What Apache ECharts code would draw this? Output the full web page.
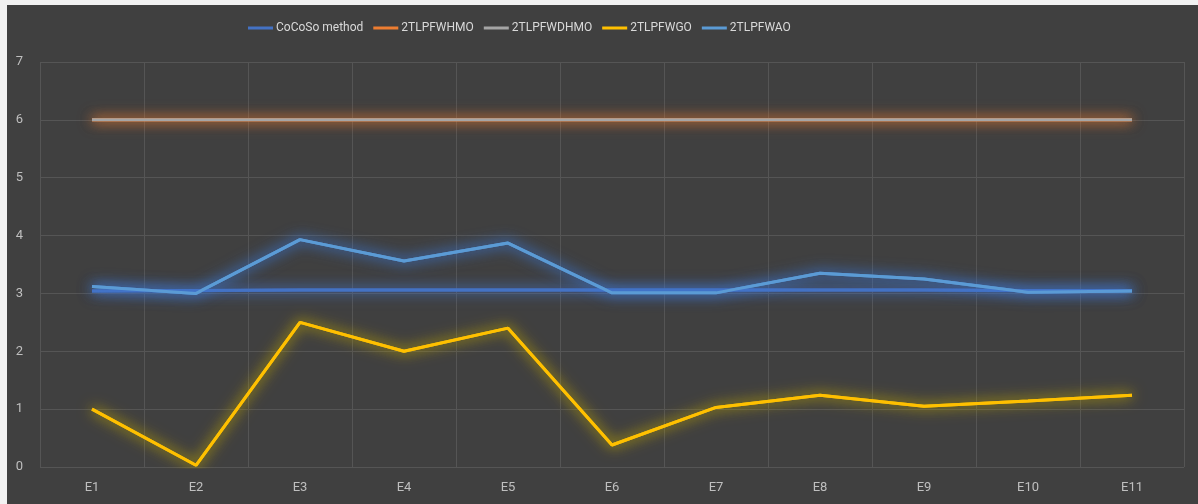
<!DOCTYPE html>
<html>
<head>
<meta charset="utf-8">
<script src="https://cdn.jsdelivr.net/npm/echarts@6/dist/echarts.min.js"></script>
<style>
    html, body { margin: 0; padding: 0; background: #f2f2f2; }
    #chart { position: absolute; left: 7px; top: 5px; width: 1191px; height: 499px; }
</style>
</head>
<body>
<div id="chart"></div>
<script>
const categories = ["E1", "E2", "E3", "E4", "E5", "E6", "E7", "E8", "E9", "E10", "E11"]
const cocoso = [3.04, 3.05, 3.06, 3.06, 3.06, 3.06, 3.06, 3.06, 3.06, 3.05, 3.05]
const whmo = [6, 6, 6, 6, 6, 6, 6, 6, 6, 6, 6]
const wdhmo = [6, 6, 6, 6, 6, 6, 6, 6, 6, 6, 6]
const wgo = [1.0, 0.03, 2.5, 2.0, 2.4, 0.38, 1.03, 1.24, 1.05, 1.14, 1.24]
const wao = [3.12, 3.0, 3.93, 3.56, 3.87, 3.01, 3.01, 3.35, 3.25, 3.02, 3.04]
const yTicks = [0, 1, 2, 3, 4, 5, 6, 7]

// extra blurred copy under each line, like Excel's glow effect
const glowSeries = (name, data, color, glow) => ({
    name: name + " glow",
    type: "line",
    data: data,
    symbol: "none",
    silent: true,
    z: 1,
    lineStyle: {
        color: color,
        width: 3,
        shadowBlur: 16,
        shadowColor: glow
    }
})

const mainSeries = (name, data, color, glow) => ({
    name: name,
    type: "line",
    data: data,
    symbol: "none",
    z: 2,
    lineStyle: { color: color, width: 3, shadowBlur: 12, shadowColor: glow },
    itemStyle: { color: color }
})

const chart = echarts.init(document.getElementById("chart"))
const option = {
    backgroundColor: "#404040",
    animation: false,
    textStyle: { fontFamily: "Roboto, sans-serif" },
    legend: {
        top: 12,
        left: 236,
        itemWidth: 25,
        itemHeight: 3,
        itemGap: 10,
        icon: "rect",
        textStyle: { color: "#d9d9d9", fontSize: 12, padding: [0, 0, 0, -2] },
        data: ["CoCoSo method", "2TLPFWHMO", "2TLPFWDHMO", "2TLPFWGO", "2TLPFWAO"]
    },
    grid: {
        left: 33,
        right: 14,
        top: 57,
        bottom: 37
    },
    xAxis: {
        type: "category",
        data: categories,
        boundaryGap: true,
        axisLine: { show: false },
        axisTick: { show: false },
        axisLabel: { color: "#bfbfbf", fontSize: 13, margin: 14 },
        splitLine: { show: true, lineStyle: { color: "#555555", width: 1 } }
    },
    yAxis: {
        type: "value",
        min: yTicks[0],
        max: yTicks[yTicks.length - 1],
        interval: 1,
        axisLine: { show: false },
        axisTick: { show: false },
        axisLabel: { color: "#bfbfbf", fontSize: 13, margin: 17 },
        splitLine: { lineStyle: { color: "#555555", width: 1 } }
    },
    series: [
        glowSeries("CoCoSo method", cocoso, "#4472C4", "rgba(68,114,196,1)"),
        glowSeries("2TLPFWHMO", whmo, "#ED7D31", "rgba(237,125,49,0.8)"),
        glowSeries("2TLPFWGO", wgo, "#FFC000", "rgba(190,165,0,0.9)"),
        glowSeries("2TLPFWAO", wao, "#5B9BD5", "rgba(60,120,215,1)"),
        mainSeries("CoCoSo method", cocoso, "#4472C4", "rgba(68,114,196,1)"),
        mainSeries("2TLPFWHMO", whmo, "#ED7D31", "rgba(237,125,49,0.8)"),
        mainSeries("2TLPFWDHMO", wdhmo, "#A5A5A5", "rgba(237,125,49,0.5)"),
        mainSeries("2TLPFWGO", wgo, "#FFC000", "rgba(190,165,0,0.9)"),
        mainSeries("2TLPFWAO", wao, "#5B9BD5", "rgba(60,120,215,1)")
    ]
}
chart.setOption(option)
</script>
</body>
</html>
